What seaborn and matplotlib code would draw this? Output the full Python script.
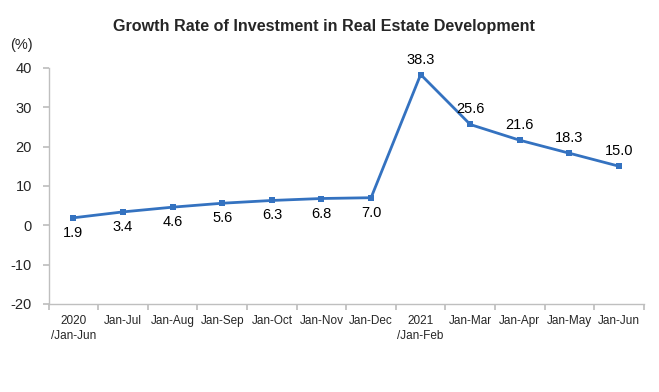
import matplotlib
matplotlib.use("Agg")
import matplotlib.pyplot as plt
import seaborn as sns
import pandas as pd
import numpy as np

categories = ["2020\n/Jan-Jun", "Jan-Jul", "Jan-Aug", "Jan-Sep", "Jan-Oct", "Jan-Nov",
              "Jan-Dec", "2021\n/Jan-Feb", "Jan-Mar", "Jan-Apr", "Jan-May", "Jan-Jun"]
growth = [1.9, 3.4, 4.6, 5.6, 6.3, 6.8, 7.0, 38.3, 25.6, 21.6, 18.3, 15.0]
label_above = [False] * 7 + [True] * 5
y_ticks = [-20, -10, 0, 10, 20, 30, 40]

sns.set_theme(style="white")
plt.rcParams['font.family'] = ['Liberation Sans', 'DejaVu Sans']

df = pd.DataFrame({"pos": np.arange(len(categories)), "growth": growth})

fig = plt.figure(figsize=(6.59, 3.92), dpi=100)
ax = fig.add_axes([0.0739, 0.2245, 0.977 - 0.0739, 0.827 - 0.2245])

color = "#3472C0"
sns.lineplot(data=df, x="pos", y="growth", ax=ax, color=color, linewidth=2,
             marker="s", markersize=5, markeredgewidth=0, markerfacecolor=color)

for i, (v, up) in enumerate(zip(growth, label_above)):
    ax.annotate(f"{v:.1f}", (i, v), xytext=(0, 15 if up else -15),
                textcoords="offset pixels",
                ha="center", va="center", fontsize=10.5, color="black")

ax.set_xlim(-0.5, len(categories) - 0.5)
ax.set_ylim(-20, 40)
ax.set_yticks(y_ticks)
ax.set_yticklabels([str(t) for t in y_ticks], fontsize=10.5)
ax.set_xticks(np.arange(-0.5, len(categories), 1.0))
ax.set_xticklabels([])
ax.set_xticks(np.arange(len(categories)), minor=True)
ax.set_xticklabels(categories, minor=True, fontsize=8.5)
ax.tick_params(axis="x", which="major", direction="out", length=4, color="#BFBFBF", bottom=True)
ax.tick_params(axis="x", which="minor", length=0, pad=8)
ax.tick_params(axis="y", direction="out", length=4, color="#BFBFBF", left=True, pad=8)
for lab in ax.get_xticklabels(minor=True):
    lab.set_linespacing(1.3)

ax.set_xlabel("")
ax.set_ylabel("")
for s in ["top", "right"]:
    ax.spines[s].set_visible(False)
for s in ["left", "bottom"]:
    ax.spines[s].set_color("#BFBFBF")
    ax.spines[s].set_linewidth(1)
ax.grid(False)

fig.text(0.491, 0.922, "Growth Rate of Investment in Real Estate Development",
         ha="center", va="baseline", fontsize=11.6, fontweight="bold")
fig.text(0.033, 0.885, "(%)", ha="center", va="center", fontsize=10.5)

fig.savefig("out.png", dpi=100)
